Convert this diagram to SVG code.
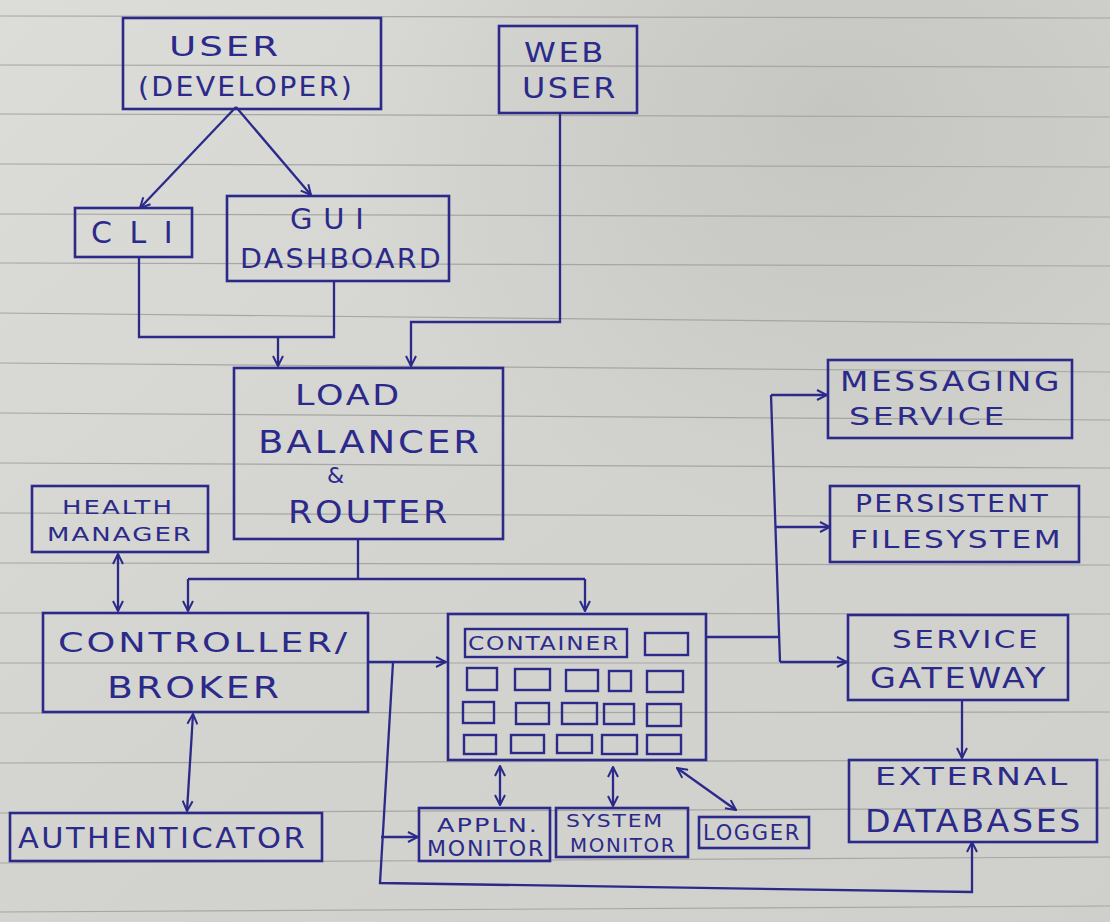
<svg xmlns="http://www.w3.org/2000/svg" width="1110" height="922" viewBox="0 0 1110 922">
<defs>
<linearGradient id="paper" x1="0" y1="0" x2="1" y2="1">
<stop offset="0" stop-color="#dcdcd8"/>
<stop offset="0.5" stop-color="#d3d3cf"/>
<stop offset="1" stop-color="#cfcfcb"/>
</linearGradient>
<radialGradient id="shade" cx="0.75" cy="0.12" r="0.45">
<stop offset="0" stop-color="#b9b9b6" stop-opacity="0.55"/>
<stop offset="1" stop-color="#b9b9b6" stop-opacity="0"/>
</radialGradient>
<marker id="ah" viewBox="0 0 12 12" refX="11" refY="6" markerWidth="12" markerHeight="12" markerUnits="userSpaceOnUse" orient="auto-start-reverse">
<path d="M1,1 L11,6 L1,11" fill="none" stroke="#2b2a8a" stroke-width="2"/>
</marker>
<style>
.box{fill:none;stroke:#2b2a8a;stroke-width:2.6}
.cell{fill:none;stroke:#2b2a8a;stroke-width:2.4}
.ln{fill:none;stroke:#2b2a8a;stroke-width:2.3}
.t{font-family:"DejaVu Sans","Liberation Sans",Arial,sans-serif;fill:#2b2a8a;font-weight:normal;letter-spacing:0.08em}
.rule{stroke:#a6a6a3;stroke-width:1.2}
</style>
</defs>
<rect x="0" y="0" width="1110" height="922" fill="url(#paper)"/>
<rect x="0" y="0" width="1110" height="922" fill="url(#shade)"/>
<g id="rules">
<line class="rule" x1="0" y1="16" x2="1110" y2="18"/>
<line class="rule" x1="0" y1="65" x2="1110" y2="67"/>
<line class="rule" x1="0" y1="114" x2="1110" y2="117"/>
<line class="rule" x1="0" y1="164" x2="1110" y2="167"/>
<line class="rule" x1="0" y1="214" x2="1110" y2="217"/>
<line class="rule" x1="0" y1="263" x2="1110" y2="266"/>
<line class="rule" x1="0" y1="313" x2="1110" y2="324"/>
<line class="rule" x1="0" y1="363" x2="1110" y2="372"/>
<line class="rule" x1="0" y1="413" x2="1110" y2="420"/>
<line class="rule" x1="0" y1="463" x2="1110" y2="468"/>
<line class="rule" x1="0" y1="513" x2="1110" y2="517"/>
<line class="rule" x1="0" y1="563" x2="1110" y2="565"/>
<line class="rule" x1="0" y1="613" x2="1110" y2="614"/>
<line class="rule" x1="0" y1="663" x2="1110" y2="663"/>
<line class="rule" x1="0" y1="713" x2="1110" y2="712"/>
<line class="rule" x1="0" y1="763" x2="1110" y2="760"/>
<line class="rule" x1="0" y1="813" x2="1110" y2="808"/>
<line class="rule" x1="0" y1="863" x2="1110" y2="857"/>
<line class="rule" x1="0" y1="912" x2="1110" y2="906"/>
</g>
<g id="connectors">
<path class="ln" d="M236,107 L140,208" marker-end="url(#ah)"/>
<path class="ln" d="M236,107 L311,195" marker-end="url(#ah)"/>
<path class="ln" d="M139,257 L139,337 L334,337 L334,281"/>
<path class="ln" d="M278,337 L278,366" marker-end="url(#ah)"/>
<path class="ln" d="M560,113 L560,322 L411,322 L411,366" marker-end="url(#ah)"/>
<path class="ln" d="M358,538 L358,579 M188,579 L585,579"/>
<path class="ln" d="M188,579 L188,611" marker-end="url(#ah)"/>
<path class="ln" d="M585,579 L585,611" marker-end="url(#ah)"/>
<path class="ln" d="M118,554 L118,611" marker-start="url(#ah)" marker-end="url(#ah)"/>
<path class="ln" d="M193,714 L187,811" marker-start="url(#ah)" marker-end="url(#ah)"/>
<path class="ln" d="M368,662 L446,662" marker-end="url(#ah)"/>
<path class="ln" d="M393,662 L380,883 L972,892 L972,842" marker-end="url(#ah)"/>
<path class="ln" d="M381,837 L418,837" marker-end="url(#ah)"/>
<path class="ln" d="M707,637 L778,637 M771,395 L780,662"/>
<path class="ln" d="M771,395 L827,395" marker-end="url(#ah)"/>
<path class="ln" d="M776,527 L830,527" marker-end="url(#ah)"/>
<path class="ln" d="M780,662 L847,662" marker-end="url(#ah)"/>
<path class="ln" d="M962,700 L962,758" marker-end="url(#ah)"/>
<path class="ln" d="M500,766 L500,805" marker-start="url(#ah)" marker-end="url(#ah)"/>
<path class="ln" d="M613,767 L613,806" marker-start="url(#ah)" marker-end="url(#ah)"/>
<path class="ln" d="M677,768 L736,810" marker-start="url(#ah)" marker-end="url(#ah)"/>
</g>
<g id="user-developer">
<rect class="box" x="123" y="18" width="258" height="91"/>
<text class="t" x="169" y="56" font-size="26" textLength="112" lengthAdjust="spacingAndGlyphs">USER</text>
<text class="t" x="138" y="96" font-size="26" textLength="216" lengthAdjust="spacingAndGlyphs">(DEVELOPER)</text>
</g>
<g id="web-user">
<rect class="box" x="499" y="26" width="138" height="87"/>
<text class="t" x="524" y="62" font-size="26" textLength="82" lengthAdjust="spacingAndGlyphs">WEB</text>
<text class="t" x="522" y="98" font-size="28" textLength="96" lengthAdjust="spacingAndGlyphs">USER</text>
</g>
<g id="cli">
<rect class="box" x="75" y="208" width="117" height="49"/>
<text class="t" x="91" y="243" font-size="30" textLength="84">CLI</text>
</g>
<g id="gui-dashboard">
<rect class="box" x="227" y="196" width="222" height="85"/>
<text class="t" x="290" y="229" font-size="29" textLength="76">GUI</text>
<text class="t" x="240" y="268" font-size="27" textLength="203" lengthAdjust="spacingAndGlyphs">DASHBOARD</text>
</g>
<g id="load-balancer">
<rect class="box" x="234" y="368" width="269" height="171"/>
<text class="t" x="295" y="405" font-size="28" textLength="107" lengthAdjust="spacingAndGlyphs">LOAD</text>
<text class="t" x="258" y="453" font-size="32" textLength="224" lengthAdjust="spacingAndGlyphs">BALANCER</text>
<text class="t" x="327" y="483" font-size="22" textLength="26">&amp;</text>
<text class="t" x="288" y="523" font-size="32" textLength="162" lengthAdjust="spacingAndGlyphs">ROUTER</text>
</g>
<g id="health-manager">
<rect class="box" x="32" y="486" width="176" height="66"/>
<text class="t" x="62" y="514" font-size="20" textLength="112" lengthAdjust="spacingAndGlyphs">HEALTH</text>
<text class="t" x="47" y="541" font-size="20" textLength="146" lengthAdjust="spacingAndGlyphs">MANAGER</text>
</g>
<g id="controller-broker">
<rect class="box" x="43" y="613" width="325" height="99"/>
<text class="t" x="58" y="652" font-size="27" textLength="292" lengthAdjust="spacingAndGlyphs">CONTROLLER/</text>
<text class="t" x="107" y="698" font-size="31" textLength="175" lengthAdjust="spacingAndGlyphs">BROKER</text>
</g>
<g id="container">
<rect class="box" x="448" y="614" width="258" height="146"/>
<rect class="cell" x="465" y="629" width="162" height="28"/>
<text class="t" x="468" y="650" font-size="20" textLength="152" lengthAdjust="spacingAndGlyphs">CONTAINER</text>
<rect class="cell" x="645" y="633" width="43" height="22"/>
<rect class="cell" x="467" y="668" width="30" height="22"/>
<rect class="cell" x="515" y="669" width="35" height="21"/>
<rect class="cell" x="566" y="670" width="32" height="21"/>
<rect class="cell" x="609" y="671" width="22" height="20"/>
<rect class="cell" x="647" y="671" width="36" height="21"/>
<rect class="cell" x="463" y="702" width="31" height="21"/>
<rect class="cell" x="516" y="703" width="33" height="21"/>
<rect class="cell" x="562" y="703" width="35" height="21"/>
<rect class="cell" x="604" y="704" width="30" height="20"/>
<rect class="cell" x="647" y="704" width="34" height="22"/>
<rect class="cell" x="464" y="735" width="32" height="19"/>
<rect class="cell" x="511" y="735" width="33" height="18"/>
<rect class="cell" x="557" y="735" width="35" height="18"/>
<rect class="cell" x="602" y="735" width="35" height="19"/>
<rect class="cell" x="647" y="735" width="34" height="19"/>
</g>
<g id="messaging-service">
<rect class="box" x="828" y="360" width="244" height="78"/>
<text class="t" x="840" y="391" font-size="27" textLength="222" lengthAdjust="spacingAndGlyphs">MESSAGING</text>
<text class="t" x="849" y="425" font-size="25" textLength="158" lengthAdjust="spacingAndGlyphs">SERVICE</text>
</g>
<g id="persistent-filesystem">
<rect class="box" x="830" y="486" width="249" height="76"/>
<text class="t" x="855" y="512" font-size="24" textLength="195" lengthAdjust="spacingAndGlyphs">PERSISTENT</text>
<text class="t" x="850" y="548" font-size="25" textLength="213" lengthAdjust="spacingAndGlyphs">FILESYSTEM</text>
</g>
<g id="service-gateway">
<rect class="box" x="848" y="615" width="220" height="85"/>
<text class="t" x="892" y="648" font-size="25" textLength="148" lengthAdjust="spacingAndGlyphs">SERVICE</text>
<text class="t" x="870" y="688" font-size="28" textLength="178" lengthAdjust="spacingAndGlyphs">GATEWAY</text>
</g>
<g id="external-databases">
<rect class="box" x="849" y="760" width="248" height="82"/>
<text class="t" x="875" y="785" font-size="25" textLength="195" lengthAdjust="spacingAndGlyphs">EXTERNAL</text>
<text class="t" x="865" y="832" font-size="32" textLength="218" lengthAdjust="spacingAndGlyphs">DATABASES</text>
</g>
<g id="authenticator">
<rect class="box" x="10" y="813" width="312" height="48"/>
<text class="t" x="18" y="848" font-size="28" textLength="289" lengthAdjust="spacingAndGlyphs">AUTHENTICATOR</text>
</g>
<g id="appln-monitor">
<rect class="box" x="419" y="808" width="131" height="53"/>
<text class="t" x="437" y="832" font-size="20" textLength="102" lengthAdjust="spacingAndGlyphs">APPLN.</text>
<text class="t" x="427" y="856" font-size="21" textLength="118" lengthAdjust="spacingAndGlyphs">MONITOR</text>
</g>
<g id="system-monitor">
<rect class="box" x="556" y="808" width="132" height="49"/>
<text class="t" x="566" y="827" font-size="18" textLength="98" lengthAdjust="spacingAndGlyphs">SYSTEM</text>
<text class="t" x="570" y="852" font-size="20" textLength="106" lengthAdjust="spacingAndGlyphs">MONITOR</text>
</g>
<g id="logger">
<rect class="box" x="699" y="817" width="110" height="31"/>
<text class="t" x="703" y="840" font-size="22" textLength="98" lengthAdjust="spacingAndGlyphs">LOGGER</text>
</g>
</svg>
